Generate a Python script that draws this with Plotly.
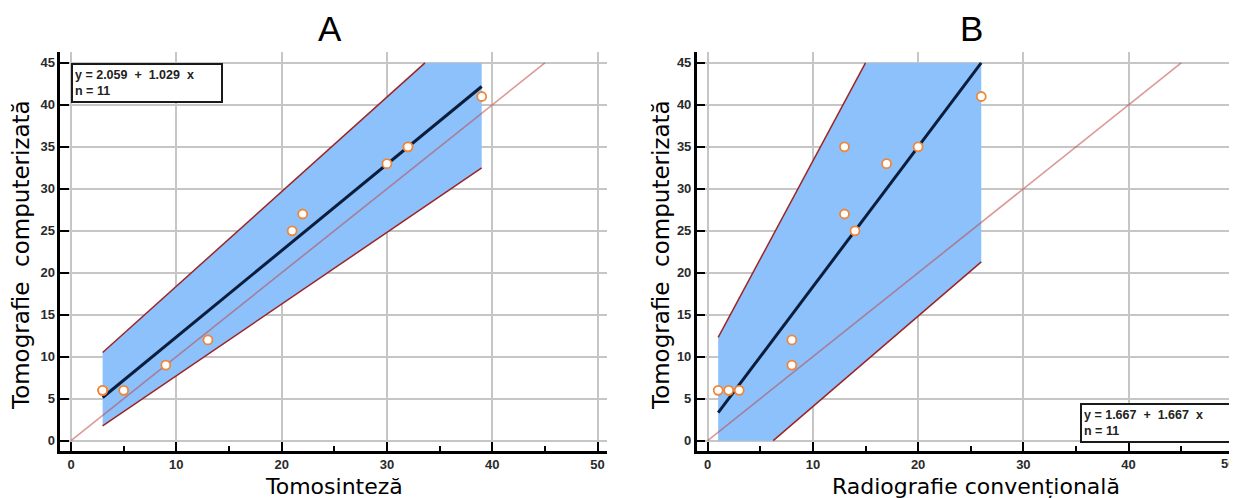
import numpy as np
import plotly.graph_objects as go

# ---------------- data ----------------
A_x = [3, 3, 5, 9, 13, 21, 22, 30, 32, 32, 39]
A_y = [6, 6, 6, 9, 12, 25, 27, 33, 35, 35, 41]
B_x = [1, 2, 3, 8, 8, 13, 13, 14, 17, 20, 26]
B_y = [6, 6, 6, 12, 9, 35, 27, 25, 33, 35, 41]

# regression (intercept, slope)
A_fit = [2.059, 1.029]
B_fit = [1.667, 1.667]
# confidence band lines: [intercept, slope] upper, lower
A_band_upper = [7.12, 1.127]
A_band_lower = [-0.81, 0.854]
B_band_upper = [9.96, 2.336]
B_band_lower = [-6.71, 1.077]

A_label = "y = 2.059  +  1.029  x<br>n = 11"
B_label = "y = 1.667  +  1.667  x<br>n = 11"

x_ticks = [0, 10, 20, 30, 40, 50]
y_ticks = [0, 5, 10, 15, 20, 25, 30, 35, 40, 45]

# page has an 8px body margin: figure occupies window from (8, 8)
OFF = 8
WIN_W, WIN_H = 1237, 498
W, H = WIN_W - OFF, WIN_H - OFF


def px(p):
    return (p - OFF) / W


def py(p):
    return 1 - (p - OFF) / H


YCLIP = (0, 45)

FILL = "#8cc1fb"
BAND_LINE = "#9e2424"
REG = "#0b1d3d"
IDENT = "rgba(190,70,70,0.55)"
MARK = "#ef873a"


def band_polygon(xs, up, lo):
    x0, x1 = min(xs), max(xs)
    pts = [x0, x1]
    for (b, m), lim in [(up, YCLIP[1]), (up, YCLIP[0]), (lo, YCLIP[1]), (lo, YCLIP[0])]:
        xc = (lim - b) / m
        if x0 < xc < x1:
            pts.append(xc)
    pts = np.array(sorted(pts))
    yu = np.clip(up[0] + up[1] * pts, *YCLIP)
    yl = np.clip(lo[0] + lo[1] * pts, *YCLIP)
    bx = list(pts) + list(pts[::-1]) + [pts[0]]
    by = list(yu) + list(yl[::-1]) + [yu[0]]
    return bx, by


def visible_segment(xs, line):
    x0, x1 = min(xs), max(xs)
    b, m = line
    lo_x = max(x0, (YCLIP[0] - b) / m)
    hi_x = min(x1, (YCLIP[1] - b) / m)
    return [lo_x, hi_x], [b + m * lo_x, b + m * hi_x]


fig = go.Figure()

panels = [
    (A_x, A_y, A_fit, A_band_upper, A_band_lower, "x", "y"),
    (B_x, B_y, B_fit, B_band_upper, B_band_lower, "x2", "y2"),
]
for xs, ys, fit, up, lo, xa, ya in panels:
    bx, by = band_polygon(xs, up, lo)
    fig.add_trace(go.Scatter(x=bx, y=by, mode="lines", fill="toself",
                             fillcolor=FILL, line=dict(width=0),
                             hoverinfo="skip", xaxis=xa, yaxis=ya))
    for ln in (up, lo):
        sx, sy = visible_segment(xs, ln)
        fig.add_trace(go.Scatter(x=sx, y=sy, mode="lines",
                                 line=dict(color=BAND_LINE, width=1.5),
                                 xaxis=xa, yaxis=ya))
    fig.add_trace(go.Scatter(x=[0, 45], y=[0, 45], mode="lines",
                             line=dict(color=IDENT, width=1.6),
                             xaxis=xa, yaxis=ya))
    sx, sy = visible_segment(xs, fit)
    fig.add_trace(go.Scatter(x=sx, y=sy, mode="lines",
                             line=dict(color=REG, width=3),
                             xaxis=xa, yaxis=ya))
    fig.add_trace(go.Scatter(x=xs, y=ys, mode="markers",
                             marker=dict(symbol="circle", size=9, color="white",
                                         line=dict(color=MARK, width=1.8)),
                             xaxis=xa, yaxis=ya))

tickfont = dict(family="Liberation Sans, Arial", size=13, color="#2a2a2a", weight="bold")
common_x = dict(tickvals=x_ticks, showline=True, linecolor="black", linewidth=2.5,
                ticks="inside", ticklen=9, tickwidth=2, tickcolor="black",
                showgrid=True, gridcolor="#c6c6c6", gridwidth=1.5, zeroline=False,
                tickfont=tickfont,
                minor=dict(dtick=5, tick0=0, ticks="inside", ticklen=5, tickwidth=1.5,
                           tickcolor="black", showgrid=False))
common_y = dict(tickvals=y_ticks, showline=True, linecolor="black", linewidth=2.5,
                ticks="inside", ticklen=9, tickwidth=2, tickcolor="black",
                showgrid=True, gridcolor="#c6c6c6", gridwidth=1.5, zeroline=False,
                tickfont=tickfont, range=[-1.23, 46.3])

y_dom = [py(451), py(52)]
fig.update_layout(
    width=W, height=H, margin=dict(l=0, r=0, t=0, b=0),
    paper_bgcolor="white", plot_bgcolor="white", showlegend=False,
    xaxis=dict(domain=[px(60.3), px(607)], range=[-1.02, 50.9], anchor="y", **common_x),
    yaxis=dict(domain=y_dom, anchor="x", **common_y),
    xaxis2=dict(domain=[px(696.7), 1.0], range=[-1.04, 50.3], anchor="y2", **common_x),
    yaxis2=dict(domain=y_dom, anchor="x2", **common_y),
)

ann_font = dict(family="DejaVu Sans", size=22, color="black")
ytitle_font = dict(family="DejaVu Sans", size=23, color="black")
title_font = dict(family="Liberation Sans, Arial", size=35, color="black")
annotations = [
    dict(text="A", x=px(330), y=py(29), font=title_font),
    dict(text="B", x=px(972), y=py(29), font=title_font),
    dict(text="Tomosinteză", x=px(334), y=py(486), font=ann_font),
    dict(text="Radiografie convențională", x=px(976), y=py(486), font=ann_font),
    dict(text="Tomografie  computerizată", x=px(21), y=py(255), textangle=-90, font=ytitle_font),
    dict(text="Tomografie  computerizată", x=px(661), y=py(255), textangle=-90, font=ytitle_font),
]
for a in annotations:
    a.update(xref="paper", yref="paper", showarrow=False, xanchor="center", yanchor="middle")

# the last x tick label of panel B sits at the right edge of the page: keep it visible
annotations.append(dict(text=str(x_ticks[-1]), xref="paper", yref="paper", x=1.0,
                        y=py(463), xanchor="right", yanchor="middle", showarrow=False,
                        font=tickfont))

box_font = dict(family="Liberation Sans, Arial", size=12.5, color="#222222", weight="bold")
for txt, x0, y0 in [(A_label, 71, 63), (B_label, 1080, 403)]:
    annotations.append(dict(text=txt, xref="paper", yref="paper", x=px(x0), y=py(y0),
                            xanchor="left", yanchor="top", showarrow=False, align="left",
                            width=144, height=32, valign="middle", borderpad=2,
                            bordercolor="#1a1a1a", borderwidth=2, bgcolor="white",
                            font=box_font))
fig.update_layout(annotations=annotations)

fig.write_html("out.html")
